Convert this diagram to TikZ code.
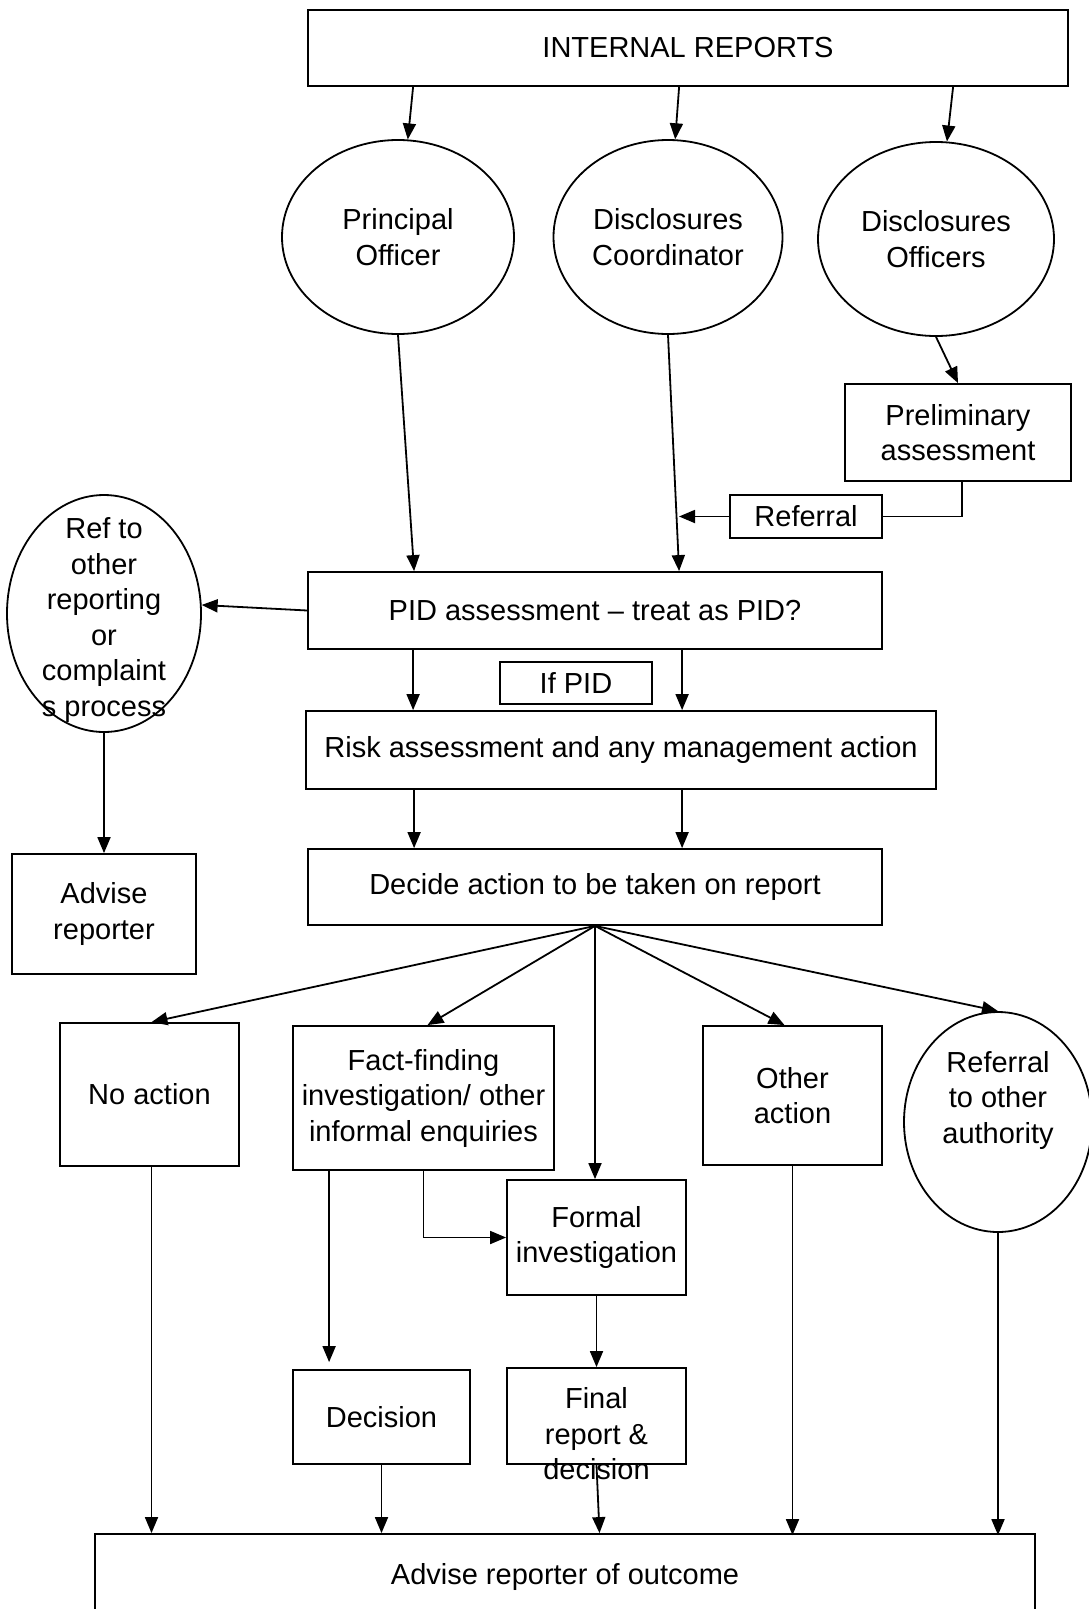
\documentclass[tikz,border=0pt]{standalone}
\usepackage{fontspec}
\setmainfont{Liberation Sans}
\usetikzlibrary{arrows.meta,shapes.geometric,calc}
\begin{document}
\begin{tikzpicture}[x=1pt,y=-1pt,
  line width=1.8pt,
  txt/.style={font=\fontsize{29}{35.5}\selectfont, align=center},
  box/.style={draw, rectangle, inner sep=0pt, txt},
  oval/.style={draw, ellipse, inner sep=0pt, txt},
  arr/.style={-{Triangle[length=16pt,width=13pt]}},
  lbl/.style={inner sep=0pt, txt}
]
\useasboundingbox (0,0) rectangle (1089,1609);
\clip (0,0) rectangle (1089,1609);

% boxes
\node[box, minimum width=760, minimum height=76] (ir) at (688,48) {INTERNAL REPORTS};
\node[oval, minimum width=232, minimum height=194] (po) at (398,237) {Principal\\Officer};
\node[oval, minimum width=229, minimum height=194] (dc) at (668,237) {Disclosures\\Coordinator};
\node[oval, minimum width=236, minimum height=194] (do) at (936,239) {Disclosures\\Officers};
\node[box, minimum width=226, minimum height=97] (pa) at (958,432.5) {Preliminary\\assessment};
\node[box, minimum width=152, minimum height=43] (rf) at (806,516.5) {Referral};
\node[box, minimum width=574, minimum height=77] (pid) at (595,610.5) {PID assessment -- treat as PID?};
\node[oval, minimum width=194, minimum height=237] (ref) at (104,613.5) {};
\node[lbl] (reft) at (104,620) {Ref to\\other\\reporting\\or\\complaint\\s process};
\node[box, minimum width=184, minimum height=120] (adv) at (104,914) {Advise\\reporter};
\node[box, minimum width=152, minimum height=42] (ifpid) at (576,683) {If PID};
\node[box, minimum width=630, minimum height=78] (risk) at (621,750) {Risk assessment and any management action};
\node[box, minimum width=574, minimum height=76] (dec) at (595,887) {Decide action to be taken on report};
\node[box, minimum width=179, minimum height=143] (noa) at (149.5,1094.5) {No action};
\node[box, minimum width=261, minimum height=144] (fact) at (423.5,1098) {Fact-finding\\investigation/ other\\informal enquiries};
\node[box, minimum width=179, minimum height=115] (form) at (596.5,1237.5) {Formal\\investigation};
\node[box, minimum width=179, minimum height=139] (oth) at (792.5,1095.5) {Other\\action};
\node[oval, minimum width=188, minimum height=220] (rta) at (998,1122) {};
\node[lbl] (rtat) at (998,1100) {Referral\\to other\\authority};
\node[box, minimum width=177, minimum height=94] (dcs) at (381.5,1417) {Decision};
\node[box, minimum width=179, minimum height=96] (fin) at (596.5,1416) {};
\node[lbl] (fint) at (596.5,1434) {Final\\report \&\\decision};
\node[box, minimum width=940, minimum height=140] (out) at (565,1604) {};
\node[lbl] (outt) at (565,1577) {Advise reporter of outcome};

% connectors
\draw[arr] ($(ir.south west)+(106,0)$) -- (po);
\draw[arr] ($(ir.south west)+(372,0)$) -- (dc);
\draw[arr] ($(ir.south west)+(646,0)$) -- (do);
\draw[arr] (do.south) -- (pa.north);
\draw[arr] (po.south) -- ($(pid.north west)+(107,0)$);
\draw[arr] (dc.south) -- ($(pid.north west)+(372,0)$);
\draw ($(pa.south)+(4,0)$) |- (rf.east);
\coordinate (rfend) at (679,516.5);
\draw[arr] (rf.west) -- (rfend);
\draw[arr] (pid.west) -- (ref.5);
\draw[arr] (ref.south) -- (adv.north);
\draw[arr] ($(pid.south west)+(106,0)$) coordinate (p1) -- (p1 |- risk.north);
\draw[arr] ($(pid.south west)+(375,0)$) coordinate (p2) -- (p2 |- risk.north);
\draw[arr] ($(risk.south west)+(109,0)$) coordinate (r1) -- (r1 |- dec.north);
\draw[arr] ($(risk.south west)+(377,0)$) coordinate (r2) -- (r2 |- dec.north);
\draw[arr] (dec.south) -- ($(noa.north)+(2,0)$);
\draw[arr] (dec.south) -- ($(fact.north)+(4,0)$);
\draw[arr] (dec.south) -- (dec.south |- form.north);
\draw[arr] (dec.south) -- ($(oth.north)+(-8,0)$);
\draw[arr] (dec.south) -- (rta.north);
\draw[arr] (fact.south) |- (form.west);
\draw[arr] ($(fact.south west)+(37,0)$) coordinate (f2) -- ($(f2 |- dcs.north)+(0,-7)$);
\draw[arr] (form.south) -- (fin.north);
\draw[arr] ($(noa.south)+(2,0)$) coordinate (n1) -- (n1 |- out.north);
\draw[arr] (dcs.south) -- (dcs.south |- out.north);
\draw[arr] (fin.south) -- ($(fin.south |- out.north)+(3,0)$);
\draw[arr] (oth.south) -- ($(oth.south |- out.north)+(0,2)$);
\draw[arr] (rta.south) -- ($(rta.south |- out.north)+(0,2)$);
\end{tikzpicture}
\end{document}
